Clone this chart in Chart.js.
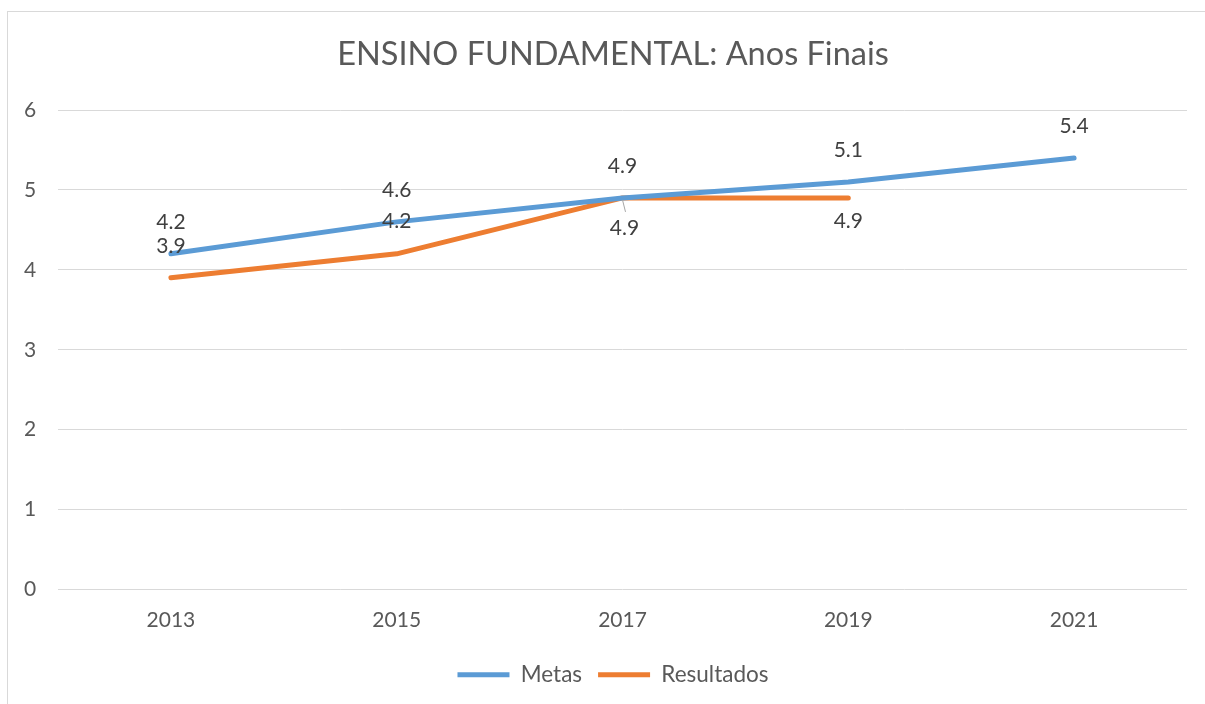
<!DOCTYPE html>
<html>
<head>
<meta charset="utf-8">
<script src="https://cdn.jsdelivr.net/npm/chart.js@4/dist/chart.umd.min.js"></script>
<style>
  body { margin: 0; background: #fff; overflow: hidden; }
  #frame { position: absolute; left: 7px; top: 11px; width: 1220px; height: 720px; border: 1px solid #d9d9d9; }
  #chart { position: absolute; left: 0; top: 0; }
</style>
</head>
<body>
<div id="frame"></div>
<canvas id="chart" width="1205" height="704"></canvas>
<script>
// dados do gráfico
const anos = ['2013', '2015', '2017', '2019', '2021'];
const metas = [4.2, 4.6, 4.9, 5.1, 5.4];
const resultados = [3.9, 4.2, 4.9, 4.9, null];

// posição dos rótulos (deslocamento vertical em px, negativo = acima)
const rotuloMetas = [-32, -32, -32, -32, -32];
const rotuloResultados = [-32, -33, 30, 23, 0];

const FONTE = 'Lato, "Open Sans", sans-serif';

// desenha os rótulos de dados (estilo Excel)
const rotulosPlugin = {
    id: 'rotulos',
    afterDatasetsDraw(chart) {
        const ctx = chart.ctx;
        const offsets = [rotuloMetas, rotuloResultados];
        ctx.save();
        ctx.font = '21px ' + FONTE;
        ctx.fillStyle = '#404040';
        ctx.textAlign = 'center';
        ctx.textBaseline = 'middle';
        chart.data.datasets.forEach((ds, di) => {
            const meta = chart.getDatasetMeta(di);
            meta.data.forEach((pt, i) => {
                const v = ds.data[i];
                if (v === null || v === undefined) return;
                let dx = 0;
                const dy = offsets[di][i];
                // rótulo deslocado com linha guia (2017 resultados)
                if (di === 1 && i === 2) {
                    dx = 2;
                    ctx.strokeStyle = '#a6a6a6';
                    ctx.lineWidth = 1;
                    ctx.beginPath();
                    ctx.moveTo(pt.x, pt.y + 2);
                    ctx.lineTo(pt.x + 3, pt.y + 14);
                    ctx.stroke();
                }
                ctx.fillText(v.toFixed(1), pt.x + dx, pt.y + dy);
            });
        });
        ctx.restore();
    }
};

const ctx = document.getElementById('chart').getContext('2d');
const chart = new Chart(ctx, {
    type: 'line',
    data: {
        labels: anos,
        datasets: [
            {
                label: 'Metas',
                data: metas,
                borderColor: '#5b9bd5',
                backgroundColor: '#5b9bd5',
                borderWidth: 5,
                borderCapStyle: 'round',
                borderJoinStyle: 'round',
                pointRadius: 0,
                tension: 0
            },
            {
                label: 'Resultados',
                data: resultados,
                borderColor: '#ed7d31',
                backgroundColor: '#ed7d31',
                borderWidth: 5,
                borderCapStyle: 'round',
                borderJoinStyle: 'round',
                pointRadius: 0,
                tension: 0
            }
        ]
    },
    options: {
        responsive: false,
        animation: false,
        // padding à esquerda centraliza título e legenda como no original
        layout: { padding: { left: 39, right: 18, top: 0, bottom: 8 } },
        scales: {
            x: {
                offset: true,
                afterFit(scale) { scale.height = 58; },
                grid: { display: false },
                border: { display: false },
                ticks: { color: '#595959', font: { family: FONTE, size: 21 }, padding: 10 }
            },
            y: {
                min: 0,
                max: 6,
                afterFit(scale) { scale.width = 19; },
                grid: { color: '#d9d9d9', lineWidth: 1, drawTicks: false },
                border: { display: false },
                // mirror evita o recorte dos rótulos fora da largura do eixo
                ticks: {
                    stepSize: 1, color: '#595959', font: { family: FONTE, size: 21 },
                    mirror: true, crossAlign: 'center', padding: -34
                }
            }
        },
        plugins: {
            title: {
                display: true,
                text: 'ENSINO FUNDAMENTAL: Anos Finais',
                color: '#595959',
                font: { family: FONTE, size: 32.5, weight: 'normal' },
                padding: { top: 35, bottom: 36 }
            },
            legend: {
                position: 'bottom',
                labels: {
                    color: '#595959',
                    font: { family: FONTE, size: 22.5 },
                    usePointStyle: true,
                    pointStyle: 'line',
                    pointStyleWidth: 52,
                    padding: 16
                }
            },
            tooltip: { enabled: false }
        }
    },
    plugins: [rotulosPlugin]
});
</script>
</body>
</html>
